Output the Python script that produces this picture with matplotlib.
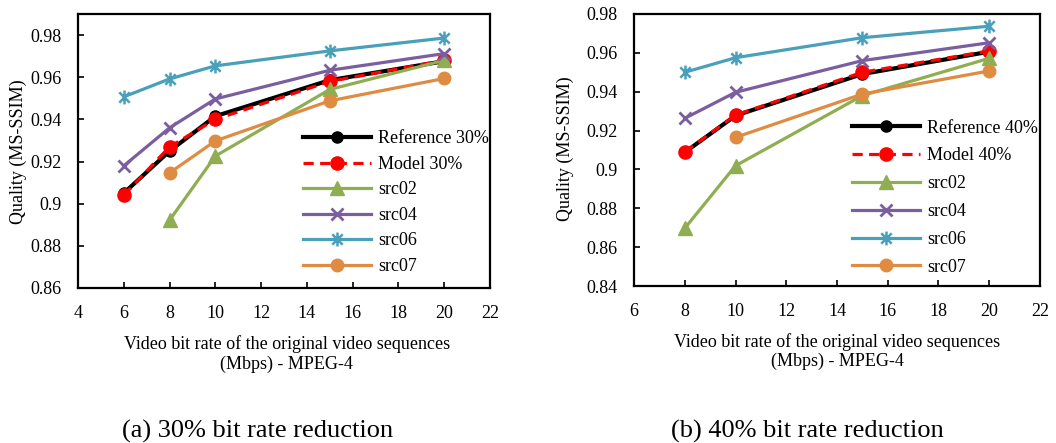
import matplotlib
matplotlib.use("Agg")
import matplotlib.pyplot as plt
from matplotlib.path import Path
from matplotlib.ticker import FuncFormatter, MultipleLocator

plt.rcParams["font.family"] = ["Liberation Serif", "DejaVu Serif"]
plt.rcParams["font.size"] = 13

# ---- data: bit rate (Mbps) vs MS-SSIM ----
rates_a = [6, 8, 10, 15, 20]
ref_30 = [0.905, 0.925, 0.9415, 0.9586, 0.9676]
model_30 = [0.904, 0.927, 0.940, 0.958, 0.968]
src02_a_rates = [8, 10, 15, 20]
src02_30 = [0.8922, 0.9226, 0.9542, 0.968]
src04_30 = [0.918, 0.936, 0.9497, 0.9633, 0.9712]
src06_30 = [0.9507, 0.9592, 0.9654, 0.9725, 0.9786]
src07_a_rates = [8, 10, 15, 20]
src07_30 = [0.9146, 0.9298, 0.9488, 0.9594]

rates_b = [8, 10, 15, 20]
ref_40 = [0.9088, 0.9277, 0.9491, 0.9606]
model_40 = [0.909, 0.928, 0.950, 0.961]
src02_40 = [0.8697, 0.9019, 0.938, 0.9572]
src04_40 = [0.9263, 0.9397, 0.956, 0.9652]
src06_40 = [0.950, 0.9575, 0.9678, 0.9737]
src07_b_rates = [10, 15, 20]
src07_40 = [0.9165, 0.9388, 0.9507]

GREEN = "#8FAE52"
PURPLE = "#7A5FA0"
TEAL = "#4AA0BA"
ORANGE = "#E08B42"

# six-armed star: vertical bar plus a diagonal cross
star = Path(
    [(0, -1), (0, 1), (-0.75, -0.75), (0.75, 0.75), (-0.75, 0.75), (0.75, -0.75)],
    [Path.MOVETO, Path.LINETO, Path.MOVETO, Path.LINETO, Path.MOVETO, Path.LINETO],
)

fig = plt.figure(figsize=(10.56, 4.43), dpi=100)
ax_a = fig.add_axes([0.0739, 0.3499, 0.3901, 0.6185])
ax_b = fig.add_axes([0.6004, 0.3544, 0.3844, 0.6140])

lw = 2.3


def draw(ax, pct, ref_x, ref, model, s02x, s02, s04x, s04, s06x, s06, s07x, s07):
    ax.plot(ref_x, ref, color="black", lw=3.0, marker="o", ms=8,
            label=f"Reference {pct}%", zorder=3)
    ax.plot(ref_x, model, color="red", lw=2.3, ls=(0, (3.2, 2.0)), marker="o",
            ms=9.5, label=f"Model {pct}%", zorder=4)
    ax.plot(s02x, s02, color=GREEN, lw=lw, marker="^", ms=9.5, label="src02", zorder=5)
    ax.plot(s04x, s04, color=PURPLE, lw=lw, marker="x", ms=9, mew=2.0,
            label="src04", zorder=5)
    ax.plot(s06x, s06, color=TEAL, lw=lw, marker=star, ms=10, mew=1.8,
            label="src06", zorder=5)
    ax.plot(s07x, s07, color=ORANGE, lw=lw, marker="o", ms=9, label="src07", zorder=5)

    for sp in ax.spines.values():
        sp.set_linewidth(1.6)
    ax.tick_params(direction="in", length=4, width=1.2, labelsize=13)
    ax.tick_params(axis="x", pad=12.5)
    ax.tick_params(axis="y", pad=12)
    ax.xaxis.set_major_locator(MultipleLocator(2))
    ax.yaxis.set_major_locator(MultipleLocator(0.02))
    ax.yaxis.set_major_formatter(FuncFormatter(lambda v, p: f"{round(v, 2):g}"))
    ax.set_xlabel("Video bit rate of the original video sequences\n(Mbps) - MPEG-4",
                  fontsize=13, linespacing=1.18)
    ax.set_ylabel("Quality (MS-SSIM)", fontsize=13)


draw(ax_a, 30, rates_a, ref_30, model_30, src02_a_rates, src02_30,
     rates_a, src04_30, rates_a, src06_30, src07_a_rates, src07_30)
draw(ax_b, 40, rates_b, ref_40, model_40, rates_b, src02_40,
     rates_b, src04_40, rates_b, src06_40, src07_b_rates, src07_40)

ax_a.set_xlim(4, 22)
ax_a.set_ylim(0.86, 0.99)
ax_b.set_xlim(6, 22)
ax_b.set_ylim(0.84, 0.98)

ax_a.xaxis.set_label_coords(0.507, -0.172)
ax_b.xaxis.set_label_coords(0.5, -0.172)
ax_a.yaxis.set_label_coords(-0.124, 0.496)
ax_b.yaxis.set_label_coords(-0.148, 0.505)

leg_kw = dict(frameon=False, fontsize=13, handlelength=3.8, handletextpad=0.4,
              numpoints=1, borderpad=0, borderaxespad=0, loc="upper left")
ax_a.legend(bbox_to_anchor=(0.545, 0.575), labelspacing=0.47, **leg_kw)
ax_b.legend(bbox_to_anchor=(0.536, 0.612), labelspacing=0.6, **leg_kw)

fig.text(257.5 / 1056, 0.025, "(a) 30% bit rate reduction", fontsize=19,
         ha="center", va="center")
fig.text(807.5 / 1056, 0.025, "(b) 40% bit rate reduction", fontsize=19,
         ha="center", va="center")

fig.savefig("out.png", dpi=100)
